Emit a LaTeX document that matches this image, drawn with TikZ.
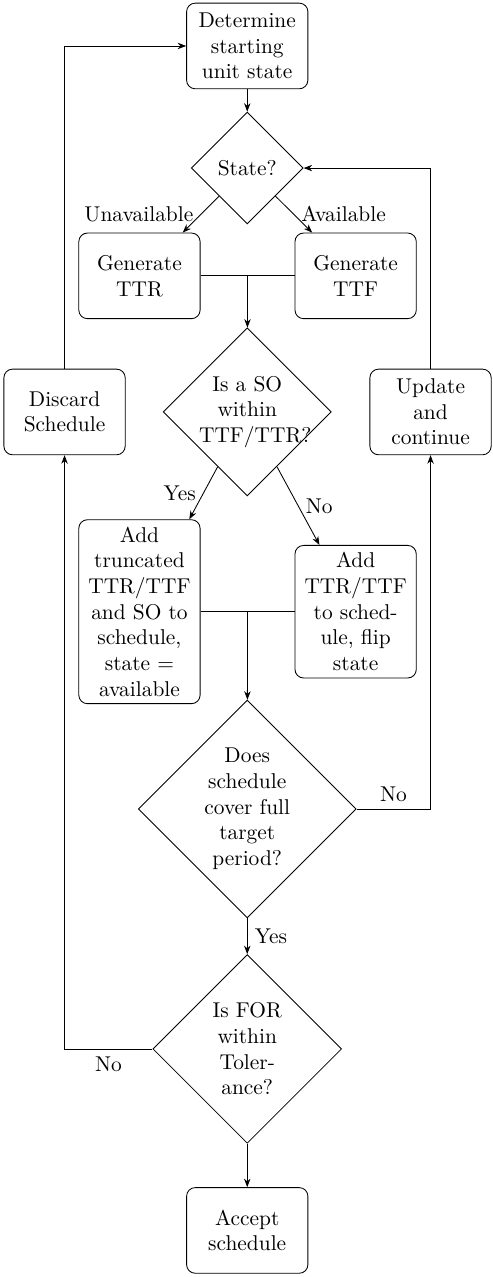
\documentclass[tikz,border=0pt]{standalone}
\usepackage{tikz}
\usetikzlibrary{shapes.geometric,arrows.meta}

\tikzset{
  block/.style={rectangle, draw, text width=5em, align=center, rounded corners, minimum height=4em},
  decision/.style={diamond, draw, text width=4.5em, align=flush center, inner sep=0pt},
  line/.style={draw, ->}
}

\begin{document}
\begin{tikzpicture}[>={Stealth[length=4pt,width=3pt]}]
  \useasboundingbox (0,0) rectangle (8.08,-20.97);

  % Main column
  \node[block] (init) at (4.06,-0.755) {Determine starting unit state};
  \node[decision] (state) at (4.06,-2.76) {State?};
  \node[block] (ttr) at (2.29,-4.53) {Generate TTR};
  \node[block] (ttf) at (5.84,-4.53) {Generate TTF};
  \node[decision] (so) at (4.06,-6.765) {Is a SO within TTF/TTR?};
  \node[block] (trunc) at (2.29,-10.045) {Add truncated TTR/TTF and SO to schedule, state = available};
  \node[block] (add) at (5.84,-10.045) {Add TTR/TTF to schedule, flip state};
  \node[decision] (cover) at (4.06,-13.284) {Does schedule cover full target period?};
  \node[decision] (tol) at (4.06,-17.225) {Is FOR within Tolerance?};
  \node[block] (accept) at (4.06,-20.205) {Accept schedule};

  % Side boxes
  \node[block] (discard) at (1.06,-6.765) {Discard Schedule};
  \node[block] (update) at (7.07,-6.765) {Update and continue};

  % Connectors
  \path[line] (init) -- (state);
  \path[line] (state) -- node[left] {Unavailable} (ttr);
  \path[line] (state) -- node[right] {Available} (ttf);
  \draw (ttr) -- coordinate[midway] (gen) (ttf);
  \path[line] (gen) -- (so);
  \path[line] (so) -- node[left] {Yes} (trunc);
  \path[line] (so) -- node[right] {No} (add);
  \draw (trunc) -- coordinate[midway] (sched) (add);
  \path[line] (sched) -- (cover);
  \path[line] (cover) -- node[right] {Yes} (tol);
  \path[line] (cover) -| node[near start, above] {No} (update);
  \path[line] (update) |- (state);
  \path[line] (tol) -- (accept);
  \path[line] (tol) -| node[near start, below] {No} (discard);
  \path[line] (discard) |- (init);
\end{tikzpicture}
\end{document}
